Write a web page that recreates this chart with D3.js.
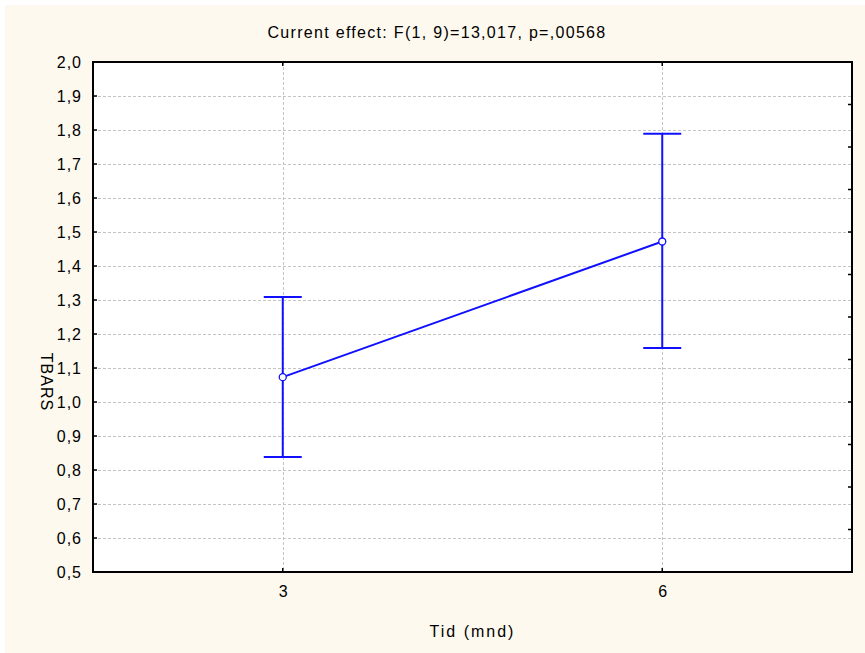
<!DOCTYPE html>
<html>
<head>
<meta charset="utf-8">
<script src="https://cdn.jsdelivr.net/npm/d3@7"></script>
<style>
  body { margin: 0; background: #ffffff; }
  svg text { font-family: "Liberation Sans", Arial, sans-serif; fill: #000; }
</style>
</head>
<body>
<svg id="chart" width="865" height="653"></svg>
<script>
// values
var categories = ["3", "6"];
var means = [1.073, 1.472];
var upper = [1.309, 1.789];
var lower = [0.838, 1.159];
var yTicks = [0.5, 0.6, 0.7, 0.8, 0.9, 1.0, 1.1, 1.2, 1.3, 1.4, 1.5, 1.6, 1.7, 1.8, 1.9, 2.0];
var titleText = "Current effect: F(1, 9)=13,017, p=,00568";
var xLabel = "Tid (mnd)";
var yLabel = "TBARS";

var svg = d3.select("#chart");
var pLeft = 93, pRight = 852, pTop = 62, pBottom = 572;
var blue = "#1010ff";

var x = d3.scalePoint().domain(categories).range([pLeft, pRight]).padding(0.5);
var y = d3.scaleLinear().domain([0.5, 2.0]).range([pBottom, pTop]);
var fmt = function(d) { return d3.format(".1f")(d).replace(".", ","); };

// background
svg.append("rect").attr("x", 5).attr("y", 5).attr("width", 860).attr("height", 648).attr("fill", "#fef9ee");
svg.append("rect").attr("x", pLeft).attr("y", pTop).attr("width", pRight - pLeft).attr("height", pBottom - pTop).attr("fill", "#fff");

// grid
var grid = svg.append("g").attr("stroke", "#c4c4c4").attr("stroke-width", 1).attr("stroke-dasharray", "3,2");
grid.selectAll("line.h").data(yTicks.slice(1, -1)).enter().append("line")
    .attr("x1", pLeft).attr("x2", pRight)
    .attr("y1", function(d) { return Math.round(y(d)) + 0.5; })
    .attr("y2", function(d) { return Math.round(y(d)) + 0.5; });
grid.selectAll("line.v").data(categories).enter().append("line")
    .attr("y1", pTop).attr("y2", pBottom)
    .attr("x1", function(d) { return Math.round(x(d)) + 0.5; })
    .attr("x2", function(d) { return Math.round(x(d)) + 0.5; });

// inward ticks
var ticks = svg.append("g").attr("stroke", "#000").attr("stroke-width", 1.5);
ticks.selectAll("line.l").data(yTicks).enter().append("line")
    .attr("x1", pLeft).attr("x2", pLeft + 4)
    .attr("y1", function(d) { return y(d); }).attr("y2", function(d) { return y(d); });
// right side ticks use 12 divisions like the source program
var yr = d3.scaleLinear().domain([0, 12]).range([pBottom, pTop]);
ticks.selectAll("line.r").data(d3.range(1, 12)).enter().append("line")
    .attr("x1", pRight - 4).attr("x2", pRight)
    .attr("y1", function(d) { return yr(d); }).attr("y2", function(d) { return yr(d); });
ticks.selectAll("line.b").data(categories).enter().append("line")
    .attr("y1", pBottom).attr("y2", pBottom - 4)
    .attr("x1", function(d) { return x(d); }).attr("x2", function(d) { return x(d); });
ticks.selectAll("line.t").data(categories).enter().append("line")
    .attr("y1", pTop).attr("y2", pTop + 4)
    .attr("x1", function(d) { return x(d); }).attr("x2", function(d) { return x(d); });

// frame
svg.append("rect").attr("x", pLeft).attr("y", pTop).attr("width", pRight - pLeft).attr("height", pBottom - pTop)
    .attr("fill", "none").attr("stroke", "#000").attr("stroke-width", 2);

// axis labels through d3 axes
var yAxis = svg.append("g").attr("transform", "translate(" + pLeft + ",0)")
    .call(d3.axisLeft(y).tickValues(yTicks).tickFormat(fmt).tickSize(0).tickPadding(11));
yAxis.select(".domain").remove();
yAxis.selectAll("text").style("font-size", "16px").style("letter-spacing", "1px");

var xAxis = svg.append("g").attr("transform", "translate(0," + pBottom + ")")
    .call(d3.axisBottom(x).tickSize(0).tickPadding(14));
xAxis.select(".domain").remove();
xAxis.selectAll("text").style("font-size", "16px");

// titles
svg.append("text").attr("x", 437).attr("y", 38).attr("text-anchor", "middle")
    .style("font-size", "16px").style("letter-spacing", "1.3px").text(titleText);
svg.append("text").attr("x", (pLeft + pRight) / 2).attr("y", 637).attr("text-anchor", "middle")
    .style("font-size", "16px").style("letter-spacing", "2px").text(xLabel);
svg.append("text").attr("transform", "translate(41,382) rotate(90)").attr("text-anchor", "middle")
    .style("font-size", "16px").style("letter-spacing", "1px").text(yLabel);

// error bars
var bars = svg.append("g").attr("stroke", blue).attr("stroke-width", 2).attr("fill", "none");
categories.forEach(function(c, i) {
    var cx = x(c);
    bars.append("line").attr("x1", cx).attr("x2", cx).attr("y1", y(upper[i])).attr("y2", y(lower[i]));
    bars.append("line").attr("x1", cx - 19).attr("x2", cx + 19).attr("y1", y(upper[i])).attr("y2", y(upper[i]));
    bars.append("line").attr("x1", cx - 19).attr("x2", cx + 19).attr("y1", y(lower[i])).attr("y2", y(lower[i]));
});

// mean line and markers
var line = d3.line().x(function(d, i) { return x(categories[i]); }).y(function(d) { return y(d); });
svg.append("path").datum(means).attr("d", line).attr("fill", "none").attr("stroke", blue).attr("stroke-width", 2);
svg.selectAll("circle.m").data(means).enter().append("circle")
    .attr("cx", function(d, i) { return x(categories[i]); })
    .attr("cy", function(d) { return y(d); })
    .attr("r", 3.5).attr("fill", "#fff").attr("stroke", blue).attr("stroke-width", 1.3);
</script>
</body>
</html>
